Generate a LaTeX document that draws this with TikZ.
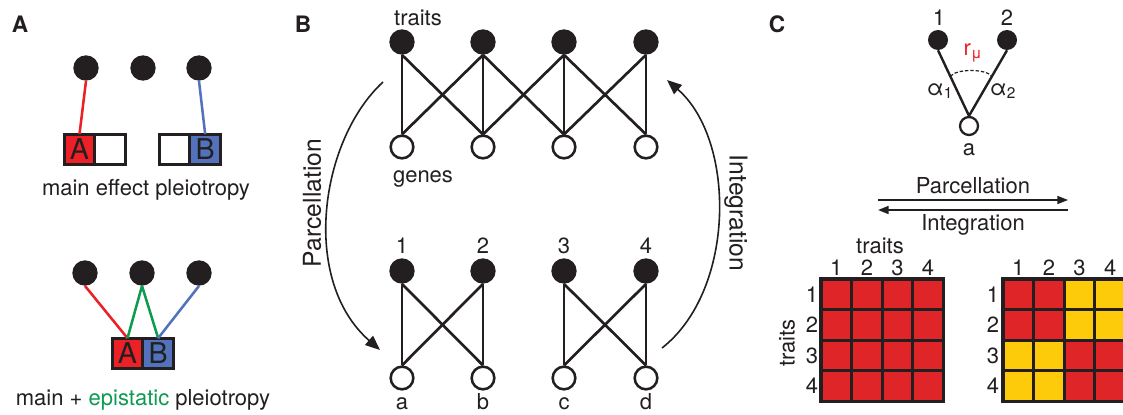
\documentclass[tikz,border=0pt]{standalone}
\usepackage{fontspec}
\setmainfont{TeX Gyre Heros}
\usepackage{xcolor}
\usepackage{tikz}
\usetikzlibrary{arrows.meta,positioning}
\definecolor{ink}{RGB}{35,31,32}
\definecolor{allelered}{RGB}{236,32,39}
\definecolor{alleleblue}{RGB}{82,115,188}
\definecolor{episgreen}{RGB}{12,155,80}
\definecolor{cellred}{RGB}{224,37,40}
\definecolor{cellyellow}{RGB}{253,203,10}

\begin{document}
\begin{tikzpicture}[x=0.75pt,y=-0.75pt]
\tikzstyle{every node}+=[inner sep=0pt,text=ink,font=\fontsize{16.5}{19}\selectfont]
\tikzstyle{panel}=[anchor=base,font=\fontsize{17}{19}\selectfont\bfseries]
\tikzstyle{lbl}=[anchor=base]
\tikzstyle{trait}=[circle,fill=ink,minimum size=19pt]
\tikzstyle{gene}=[circle,draw=ink,fill=white,line width=1.9pt,minimum size=17pt]
\tikzstyle{smalltrait}=[circle,fill=ink,minimum size=15pt]
\tikzstyle{smallgene}=[circle,draw=ink,fill=white,line width=1.7pt,minimum size=13.5pt]
\tikzstyle{allele}=[rectangle,draw=ink,line width=2.3pt,minimum size=23pt,outer sep=0pt,font=\fontsize{21.5}{21.5}\selectfont]
\tikzstyle{link}=[draw=ink,line width=2pt]
\tikzstyle{effect}=[line width=1.9pt]
\tikzstyle{bendflow}=[draw=ink,line width=1.2pt,-{Triangle[length=11pt,width=9pt]}]
\tikzstyle{flow}=[draw=ink,line width=1.2pt,-{Triangle[length=8pt,width=6pt]}]
\tikzstyle{cellgrid}=[draw=ink,line width=2.3pt,line cap=rect]
\useasboundingbox (0,0) rectangle (1123,414);
\fill[white] (0,0) rectangle (1123,414);
\node[panel] (pA) at (20,32) {A};
\node[panel] (pB) at (303,32) {B};
\node[panel] (pC) at (777,32) {C};
\node[trait] (at1) at (86,68) {};
\node[trait] (at2) at (143,68) {};
\node[trait] (at3) at (199,68) {};
\node[allele,fill=allelered] (aA) at (79.5,149.5) {A};
\node[allele,right=0pt of aA] (aAw) {};
\node[allele] (aBw) at (174.5,149.5) {};
\node[allele,fill=alleleblue,right=0pt of aBw] (aB) {B};
\draw[effect,allelered] (at1.south) -- (aA.north);
\draw[effect,alleleblue] (at3.south) -- (aB.north);
\node[lbl] (amain) at (146,195) {main effect pleiotropy};
\node[trait] (et1) at (85,273) {};
\node[trait] (et2) at (142,273) {};
\node[trait] (et3) at (199,273) {};
\node[allele,fill=allelered] (eA) at (127.5,353.5) {A};
\node[allele,fill=alleleblue,right=0pt of eA] (eB) {B};
\draw[effect,allelered] (et1.south) -- (eA.north);
\draw[effect,episgreen] (et2.south) -- (eA.north);
\draw[effect,episgreen] (et2.south) -- (eB.north);
\draw[effect,alleleblue] (et3.south) -- (eB.north);
\node[lbl] (emain) at (143,405) {main + {\color{episgreen}epistatic} pleiotropy};
\node[trait] (bt1) at (402,42) {};
\node[trait] (bt2) at (483,42) {};
\node[trait] (bt3) at (564,42) {};
\node[trait] (bt4) at (646,42) {};
\node[gene] (bg1) at (402,147) {};
\node[gene] (bg2) at (483,147) {};
\node[gene] (bg3) at (564,147) {};
\node[gene] (bg4) at (646,147) {};
\draw[link] (bt1.south) -- (bg1.north);
\draw[link] (bt1.south) -- (bg2.north);
\draw[link] (bt2.south) -- (bg1.north);
\draw[link] (bt2.south) -- (bg2.north);
\draw[link] (bt2.south) -- (bg3.north);
\draw[link] (bt3.south) -- (bg2.north);
\draw[link] (bt3.south) -- (bg3.north);
\draw[link] (bt3.south) -- (bg4.north);
\draw[link] (bt4.south) -- (bg3.north);
\draw[link] (bt4.south) -- (bg4.north);
\node[lbl] (btraits) at (418,25) {traits};
\node[lbl] (bgenes) at (423,182) {genes};
\node[trait] (bp1) at (402,271) {};
\node[trait] (bp2) at (483,271) {};
\node[trait] (bp3) at (564,271) {};
\node[trait] (bp4) at (646,271) {};
\node[gene] (bq1) at (402,378) {};
\node[gene] (bq2) at (483,378) {};
\node[gene] (bq3) at (564,378) {};
\node[gene] (bq4) at (646,378) {};
\draw[link] (bp1.south) -- (bq1.north);
\draw[link] (bp1.south) -- (bq2.north);
\draw[link] (bp2.south) -- (bq1.north);
\draw[link] (bp2.south) -- (bq2.north);
\draw[link] (bp3.south) -- (bq3.north);
\draw[link] (bp3.south) -- (bq4.north);
\draw[link] (bp4.south) -- (bq3.north);
\draw[link] (bp4.south) -- (bq4.north);
\node[lbl] (bn1) at (402,253) {1};
\node[lbl] (bn2) at (483,253) {2};
\node[lbl] (bn3) at (564,253) {3};
\node[lbl] (bn4) at (646,253) {4};
\node[lbl] (bla) at (402,409) {a};
\node[lbl] (blb) at (483,409) {b};
\node[lbl] (blc) at (564,409) {c};
\node[lbl] (bld) at (646,409) {d};
\coordinate (parcfrom) at (383,82);
\coordinate (parcto) at (380,350);
\draw[bendflow] (parcfrom) .. controls (320,140) and (300,280) .. (parcto);
\node[rotate=90,font=\fontsize{18.5}{20}\selectfont] (bparc) at (312,203) {Parcellation};
\coordinate (integfrom) at (662,348);
\coordinate (integto) at (667,80);
\draw[bendflow] (integfrom) .. controls (736,290) and (736,140) .. (integto);
\node[rotate=-90,font=\fontsize{18.5}{20}\selectfont] (binteg) at (736,213) {Integration};
\node[smalltrait] (ct1) at (938,40) {};
\node[smalltrait] (ct2) at (1007,40) {};
\node[smallgene] (cg) at (969,126) {};
\draw[link,line width=1.8pt] (ct1.south) -- coordinate[pos=0.4] (cr1) (cg.north);
\draw[link,line width=1.8pt] (ct2.south) -- coordinate[pos=0.4] (cr2) (cg.north);
\draw[ink,line width=0.9pt,dash pattern=on 2.5pt off 1.5pt] (cr1) .. controls +(5,-8) and +(-5,-8) .. (cr2);
\node[lbl] (cn1) at (939,26) {1};
\node[lbl] (cn2) at (1007,26) {2};
\node[lbl] (cla) at (969,155) {a};
\node[lbl,text=allelered] (crmu) at (973,55) {r\textsubscript{μ}};
\node[lbl] (calpha1) at (940,95) {α\textsubscript{1}};
\node[lbl] (calpha2) at (1003,95) {α\textsubscript{2}};
\node[lbl] (cparc) at (973,193) {Parcellation};
\coordinate (cpl) at (878,200);
\coordinate (cpr) at (1068,200);
\draw[flow] (cpl) -- (cpr);
\coordinate (cil) at (878,210);
\coordinate (cir) at (1068,210);
\draw[flow] (cir) -- (cil);
\node[lbl] (cinteg) at (973,230) {Integration};
\fill[cellred] (821,279) rectangle (943.4,401.4);
\fill[cellred] (1003,279) rectangle (1125.4,401.4);
\fill[cellyellow] (1064.2,279) rectangle (1125.4,340.2);
\fill[cellyellow] (1003,340.2) rectangle (1064.2,401.4);
\foreach \i in {0,...,4} {
  \draw[cellgrid] (821+30.6*\i,279) -- (821+30.6*\i,401.4);
  \draw[cellgrid] (821,279+30.6*\i) -- (943.4,279+30.6*\i);
  \draw[cellgrid] (1003+30.6*\i,279) -- (1003+30.6*\i,401.4);
  \draw[cellgrid] (1003,279+30.6*\i) -- (1125.4,279+30.6*\i);
}
\foreach \i in {1,...,4} {
  \node[lbl] (mlcol\i) at (836.3+30.6*\i-30.6,275) {\i};
  \node (mlrow\i) at (812,294.3+30.6*\i-30.6) {\i};
  \node[lbl] (mrcol\i) at (1018.3+30.6*\i-30.6,275) {\i};
  \node (mrrow\i) at (993,294.3+30.6*\i-30.6) {\i};
}
\node[lbl] (mtraitscol) at (880,253) {traits};
\node[rotate=90] (mtraitsrow) at (787,343) {traits};
\end{tikzpicture}
\end{document}
